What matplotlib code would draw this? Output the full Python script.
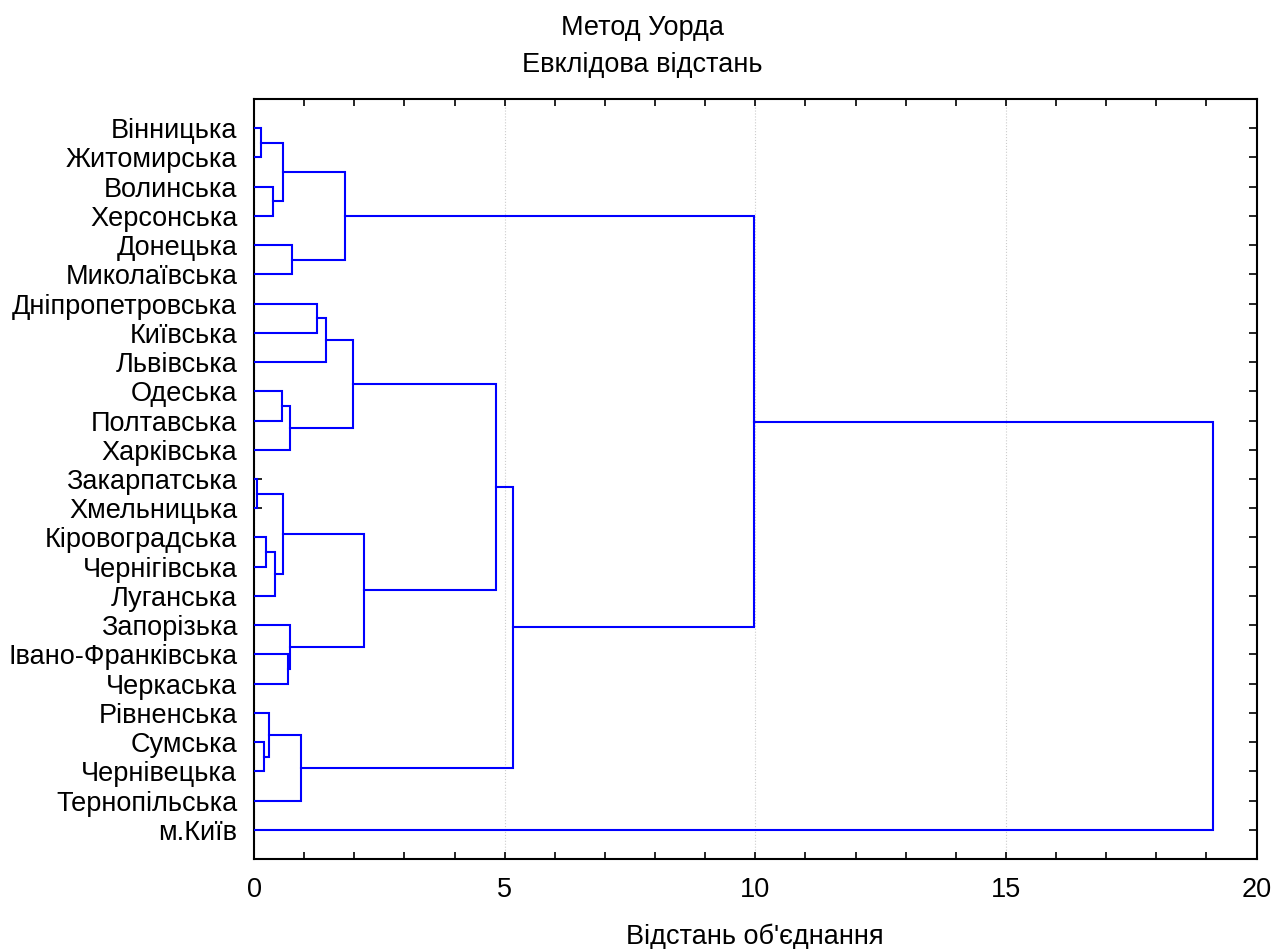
import numpy as np
import matplotlib
matplotlib.use("Agg")
import matplotlib.pyplot as plt
from matplotlib.ticker import MultipleLocator

plt.rcParams['font.family'] = ['Liberation Sans', 'DejaVu Sans']

# Leaves, in the order they appear from top to bottom
regions = ["Вінницька", "Житомирська", "Волинська", "Херсонська", "Донецька",
           "Миколаївська", "Дніпропетровська", "Київська", "Львівська", "Одеська",
           "Полтавська", "Харківська", "Закарпатська", "Хмельницька",
           "Кіровоградська", "Чернігівська", "Луганська", "Запорізька",
           "Івано-Франківська", "Черкаська", "Рівненська", "Сумська",
           "Чернівецька", "Тернопільська", "м.Київ"]

# Ward linkage (leaves are 0..24, merge k creates cluster 25+k)
merge_left = [0, 2, 25, 4, 27, 6, 30, 9, 32, 31, 12, 14, 36, 35, 18, 17,
              38, 34, 21, 20, 44, 42, 29, 47]
merge_right = [1, 3, 26, 5, 28, 7, 8, 10, 11, 33, 13, 15, 16, 37, 19, 39,
               40, 41, 22, 43, 23, 45, 46, 24]
merge_dist = [0.13, 0.38, 0.58, 0.76, 1.81, 1.25, 1.43, 0.56, 0.72, 1.98,
              0.05, 0.23, 0.41, 0.58, 0.68, 0.72, 2.19, 4.83, 0.20, 0.30,
              0.94, 5.16, 9.97, 19.13]

n = len(regions)
fs = 19.5
fig = plt.figure(figsize=(12.74, 9.49), dpi=100)
ax = fig.add_axes([0.1994, 0.0948, 0.7869, 0.8009])

# position/height of every node
ypos = list(range(n))
xpos = [0.0] * n
for a, b, d in zip(merge_left, merge_right, merge_dist):
    ya, yb = ypos[a], ypos[b]
    ax.plot([xpos[a], d, d, xpos[b]], [ya, ya, yb, yb], color='#0000ff', lw=1.5,
            solid_joinstyle='miter', zorder=3)
    ypos.append((ya + yb) / 2)
    xpos.append(d)

ax.set_xlim(0, 20)
ax.set_ylim(n, -1)
ax.set_yticks(range(n))
ax.set_yticklabels(regions, fontsize=fs)
ax.xaxis.set_major_locator(MultipleLocator(5))
ax.xaxis.set_minor_locator(MultipleLocator(1))
ax.tick_params(axis='x', which='both', direction='in', top=True, length=5,
               width=1.2, labelsize=fs, pad=13)
ax.tick_params(axis='y', direction='in', right=True, length=6, width=1.2, pad=12)
ax.grid(axis='x', which='major', color='#cccccc', linestyle=':', lw=0.8)
for s in ax.spines.values():
    s.set_linewidth(1.5)

ax.set_xlabel("Відстань об'єднання", fontsize=fs, labelpad=15)
fig.text(0.504, 0.9705, "Метод Уорда", fontsize=fs, ha='center', va='center')
fig.text(0.504, 0.9315, "Евклідова відстань", fontsize=fs, ha='center', va='center')

fig.savefig("out.png", dpi=100)
